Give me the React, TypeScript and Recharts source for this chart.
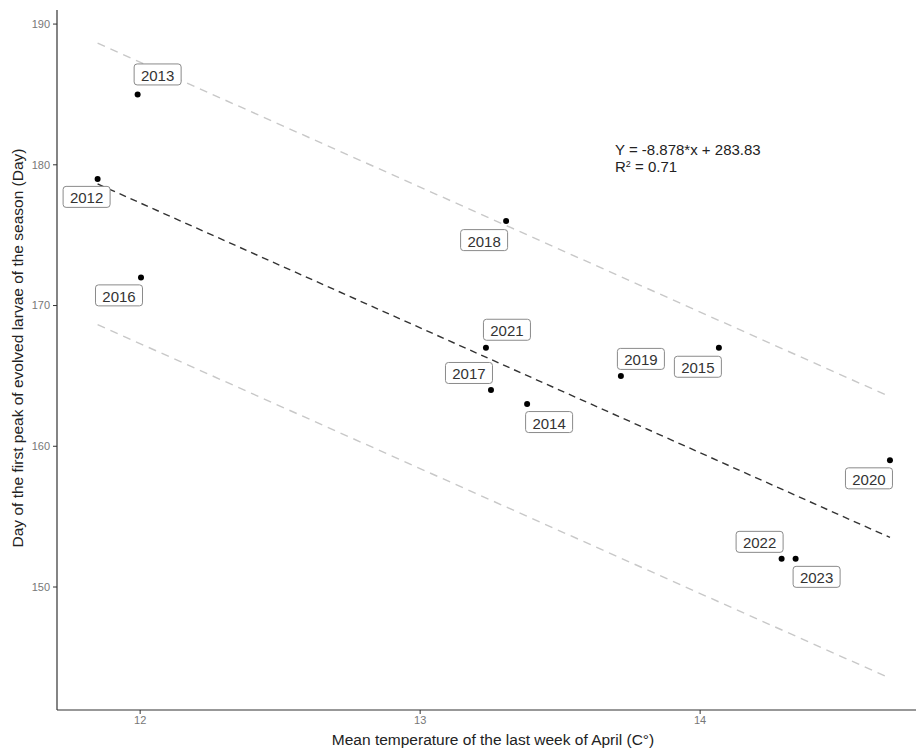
import React from 'react'
import { ScatterChart, Scatter, XAxis, YAxis } from 'recharts'

// Observed seasons
const years = ['2012', '2013', '2014', '2015', '2016', '2017', '2018', '2019', '2020', '2021', '2022', '2023']
const meanTemp = [11.848, 11.991, 13.382, 14.067, 12.003, 13.253, 13.307, 13.717, 14.678, 13.235, 14.291, 14.341]
const firstPeakDay = [179, 185, 163, 167, 172, 164, 176, 165, 159, 167, 152, 152]

// Regression line (Y = -8.878*x + 283.83) and +/- 10 day band, endpoints
const fitX = [11.848, 14.678]
const fitY = [178.64, 153.52]
const upperY = [188.64, 163.52]
const lowerY = [168.64, 143.52]

const xTicks = [12, 13, 14]
const yTicks = [150, 160, 170, 180, 190]

const FONT = '"Liberation Sans", Arial, sans-serif'

// where ggrepel put each label box relative to its point (px)
const labelNudge: Record<string, [number, number]> = {
  '2012': [-11, 18],
  '2013': [20, -20],
  '2014': [22, 18],
  '2015': [-21, 19],
  '2016': [-22, 18],
  '2017': [-22, -17],
  '2018': [-22, 19],
  '2019': [20, -17],
  '2020': [-21, 18],
  '2021': [21, -18],
  '2022': [-22, -17],
  '2023': [21, 18],
}

const points = years.map((year, i) => ({ year, x: meanTemp[i], y: firstPeakDay[i] }))
const fitLine = fitX.map((x, i) => ({ x, y: fitY[i] }))
const upperLine = fitX.map((x, i) => ({ x, y: upperY[i] }))
const lowerLine = fitX.map((x, i) => ({ x, y: lowerY[i] }))

const NoShape = () => <g />

const Dot = (props: any) => {
  const { cx, cy } = props
  return <circle cx={cx} cy={cy} r={3} fill="#000" />
}

const LabelBox = (props: any) => {
  const { cx, cy, payload } = props
  const [dx, dy] = labelNudge[payload.year] || [0, 0]
  const w = 47
  const h = 21
  return (
    <g>
      <rect
        x={cx + dx - w / 2}
        y={cy + dy - h / 2}
        width={w}
        height={h}
        rx={3}
        fill="#fff"
        stroke="#8a8a8a"
        strokeWidth={1}
      />
      <text
        x={cx + dx}
        y={cy + dy + 1}
        textAnchor="middle"
        dominantBaseline="central"
        fontSize={15}
        fontFamily={FONT}
        fill="#333"
      >
        {payload.year}
      </text>
    </g>
  )
}

export default function App() {
  return (
    <div style={{ position: 'absolute', left: 0, top: 0, width: 916, height: 751, background: '#fff', overflow: 'hidden' }}>
      <ScatterChart width={916} height={751} margin={{ top: 10, right: 0, bottom: 11, left: 17 }}>
        <XAxis
          type="number"
          dataKey="x"
          domain={[11.703, 14.771]}
          ticks={xTicks}
          allowDataOverflow
          height={30}
          axisLine={{ stroke: '#333', strokeWidth: 1.2 }}
          tickLine={{ stroke: '#333' }}
          tickSize={4}
          tickMargin={2}
          tick={{ fill: '#777', fontSize: 11, fontFamily: FONT }}
        />
        <YAxis
          type="number"
          dataKey="y"
          domain={[141.26, 191.0]}
          ticks={yTicks}
          allowDataOverflow
          width={40}
          axisLine={{ stroke: '#333', strokeWidth: 1.2 }}
          tickLine={{ stroke: '#333' }}
          tickSize={4}
          tickMargin={3}
          tick={{ fill: '#777', fontSize: 11, fontFamily: FONT }}
        />
        <Scatter
          data={upperLine}
          line={{ stroke: '#c8c8c8', strokeWidth: 1.4, strokeDasharray: '8 6' }}
          shape={NoShape}
          isAnimationActive={false}
        />
        <Scatter
          data={lowerLine}
          line={{ stroke: '#c8c8c8', strokeWidth: 1.4, strokeDasharray: '8 6' }}
          shape={NoShape}
          isAnimationActive={false}
        />
        <Scatter
          data={fitLine}
          line={{ stroke: '#333', strokeWidth: 1.4, strokeDasharray: '7 5' }}
          shape={NoShape}
          isAnimationActive={false}
        />
        <Scatter data={points} shape={Dot} isAnimationActive={false} />
        <Scatter data={points} shape={LabelBox} isAnimationActive={false} />
      </ScatterChart>
      <svg
        width={916}
        height={751}
        style={{ position: 'absolute', left: 0, top: 0, pointerEvents: 'none' }}
      >
        <text x={615} y={155} fontSize={15} fontFamily={FONT} fill="#222">
          Y = -8.878*x + 283.83
        </text>
        <text x={615} y={172} fontSize={15} fontFamily={FONT} fill="#222">
          R<tspan dy={-5} fontSize={9}>2</tspan>
          <tspan dy={5}> = 0.71</tspan>
        </text>
        <text
          x={493}
          y={739}
          textAnchor="middle"
          dominantBaseline="central"
          fontSize={15.5}
          fontFamily={FONT}
          fill="#222"
        >
          Mean temperature of the last week of April (C°)
        </text>
        <text
          x={17}
          y={348}
          transform="rotate(-90 17 348)"
          textAnchor="middle"
          dominantBaseline="central"
          fontSize={15.5}
          fontFamily={FONT}
          fill="#222"
        >
          Day of the first peak of evolved larvae of the season (Day)
        </text>
      </svg>
    </div>
  )
}
